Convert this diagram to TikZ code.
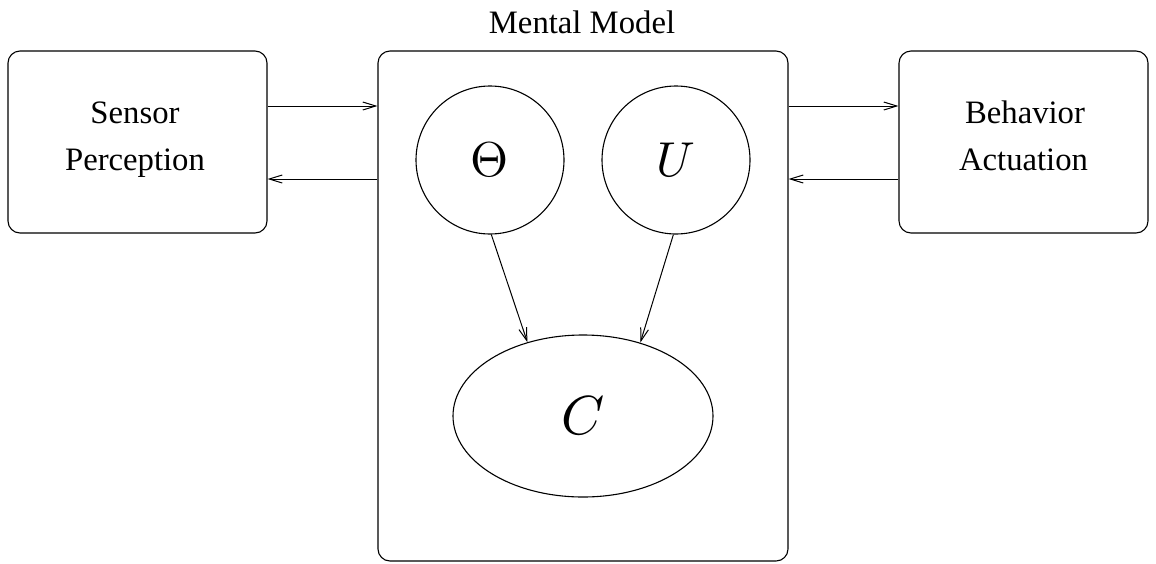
\documentclass[tikz,border=0pt]{standalone}
\usepackage{graphicx}
\usepackage{fontspec}
\setmainfont{Liberation Serif}
\usetikzlibrary{arrows.meta,shapes.geometric}

\tikzset{
  block/.style={draw, line width=1.1pt, rounded corners=12pt, inner sep=0pt},
  word/.style={anchor=base, inner sep=0pt, font=\fontsize{32.7pt}{40pt}\selectfont},
  var/.style={draw, circle, line width=1.1pt, minimum size=148pt, inner sep=0pt},
  outcome/.style={draw, ellipse, line width=1.1pt, minimum width=260pt,
    minimum height=162pt, inner sep=0pt},
  flow/.style={line width=1pt, -{Straight Barb[length=13pt,width=8pt,line width=1pt]}}
}

\begin{document}
\begin{tikzpicture}[x=1pt, y=-1pt]
  \useasboundingbox (0,0) rectangle (1156,563);

  % outer blocks
  \node[block, minimum width=259pt, minimum height=182pt] (sense) at (137.5,142) {};
  \node[block, minimum width=410pt, minimum height=510pt] (mind) at (583,306) {};
  \node[block, minimum width=249pt, minimum height=182pt] (act) at (1023.5,142) {};

  % block labels
  \node[word] (sense1) at (135,123.5) {Sensor};
  \node[word] (sense2) at (135,170) {Perception};
  \node[word] (act1) at (1025,123.5) {Behavior};
  \node[word] (act2) at (1023.5,170) {Actuation};
  \node[word] (title) at (582,33) {Mental Model};

  % inner graphical model
  \node[var] (theta) at (490,160) {\scalebox{4.9}{$\Theta$}};
  \node[var] (util) at (676,160) {\scalebox{4.9}{$U$}};
  \node[outcome] (choice) at (583,416) {\scalebox{5.5}{$C$}};

  % information flow between blocks
  \draw[flow] ([yshift=36pt]sense.east) -- ([yshift=36pt]sense.east -| mind.west);
  \draw[flow] ([yshift=-37pt]sense.east -| mind.west) -- ([yshift=-37pt]sense.east);
  \draw[flow] ([yshift=36pt]act.west -| mind.east) -- ([yshift=36pt]act.west);
  \draw[flow] ([yshift=-37pt]act.west) -- ([yshift=-37pt]act.west -| mind.east);

  % dependencies
  \draw[flow] (theta.-89) -- (choice.127);
  \draw[flow] (util.-92) -- (choice.52);
\end{tikzpicture}
\end{document}
